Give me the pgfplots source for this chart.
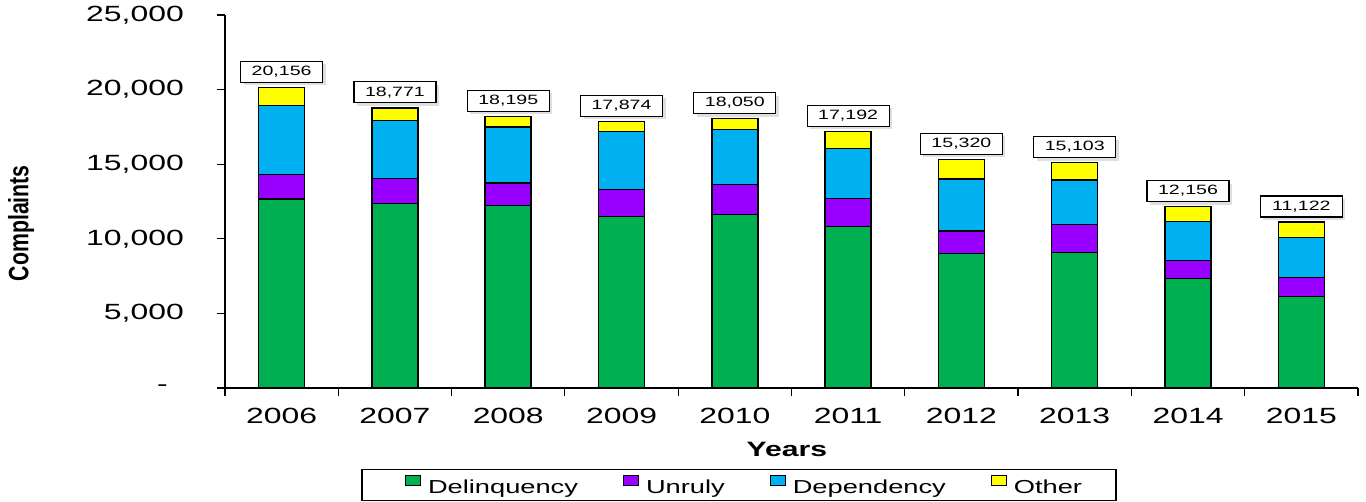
\documentclass[border=0pt]{standalone}
\usepackage{fontspec}
\setmainfont[FakeStretch=1.45]{Liberation Sans}
\newfontfamily\narrowfont[FakeStretch=0.76]{Liberation Sans}
\usepackage{pgfplots}
\usepackage{pgfplotstable}
\pgfplotsset{compat=1.18}
\usetikzlibrary{shadows}
\definecolor{cD}{RGB}{0,176,80}
\definecolor{cU}{RGB}{153,0,255}
\definecolor{cP}{RGB}{0,176,240}
\definecolor{cO}{RGB}{255,255,0}
% G = invisible gap between the bar top and its total label
\pgfplotstableread{
x D U P O T G
0 12670 1630 4620 1236 20156 600
1 12350 1680 3890 851 18771 600
2 12220 1520 3750 705 18195 600
3 11510 1810 3880 674 17874 600
4 11640 2010 3690 710 18050 600
5 10810 1880 3370 1132 17192 600
6 9000 1520 3490 1310 15320 600
7 9070 1880 2990 1163 15103 600
8 7350 1180 2640 986 12156 600
9 6140 1280 2680 1022 11122 600
}\datatable
\begin{document}
\begin{tikzpicture}
\begin{axis}[
  name=ax,
  scale only axis, width=1133pt, height=373pt,
  xmin=-0.5, xmax=9.5, ymin=0, ymax=25000,
  scaled y ticks=false,
  axis x line*=bottom, axis y line*=left,
  axis line style={-, line width=1.3pt, black},
  ybar stacked, bar width=46pt,
  /pgf/number format/assume math mode=true,
  /pgf/number format/1000 sep={,},
  major tick length=0pt, minor tick length=8pt, tick align=outside,
  tick style={black, line width=1.2pt},
  xtick={0,...,9},
  minor xtick={-0.5,0.5,...,9.5},
  xticklabels={2006,2007,2008,2009,2010,2011,2012,2013,2014,2015},
  ytick={0,5000,...,25000},
  minor ytick={0,5000,...,25000},
  yticklabels={{-\hspace*{16pt}},{5,000},{10,000},{15,000},{20,000},{25,000}},
  xticklabel style={inner sep=0pt, anchor=north, yshift=-20pt, font=\fontsize{22}{26}\selectfont},
  yticklabel style={inner sep=0pt, anchor=east, xshift=-41pt, font=\fontsize{22}{26}\selectfont},
  xlabel={Years}, ylabel={Complaints},
  every axis x label/.style={at={(axis description cs:0.496,-0.166)}, anchor=center, font=\bfseries\fontsize{20.8}{24}\selectfont},
  every axis y label/.style={at={(axis description cs:-0.18,0.442)}, rotate=90, anchor=center, font=\narrowfont\bfseries\fontsize{28}{32}\selectfont},
  legend columns=4,
  legend style={at={(axis description cs:0.4537,-0.260)}, anchor=center,
    draw=black, line width=1.2pt, inner xsep=43pt, inner ysep=6pt,
    font=\fontsize{18.8}{22}\selectfont,
    nodes={inner sep=0pt},
    column sep=7pt,
    /tikz/every even column/.append style={column sep=45pt}},
  legend image code/.code={\draw[#1, line width=1pt] (0pt,1.5pt) rectangle (15pt,11.5pt);},
  every axis plot/.append style={draw=black, line width=1.5pt},
]
\addplot[fill=cD] table[x=x, y=D] {\datatable};
\addplot[fill=cU] table[x=x, y=U] {\datatable};
\addplot[fill=cP] table[x=x, y=P] {\datatable};
\addplot[fill=cO] table[x=x, y=O] {\datatable};
\addplot[draw=none, fill=none, forget plot, point meta=explicit,
  nodes near coords,
  every node near coord/.style={font=\fontsize{13.5}{16}\selectfont, draw=black, line width=1.2pt, fill=white,
    drop shadow={shadow xshift=3pt, shadow yshift=-3pt, fill=black!25, draw=none},
    minimum width=82pt, minimum height=21pt, inner sep=0pt, anchor=south}
  ] table[x=x, y=G, meta=T] {\datatable};
\legend{Delinquency, Unruly, Dependency, {Other\hspace*{-9pt}}}
\end{axis}
\pgfresetboundingbox
\path[use as bounding box] (ax.south west) ++(-225pt,-114pt) rectangle ++(1366pt,502pt);
\end{tikzpicture}
\end{document}
